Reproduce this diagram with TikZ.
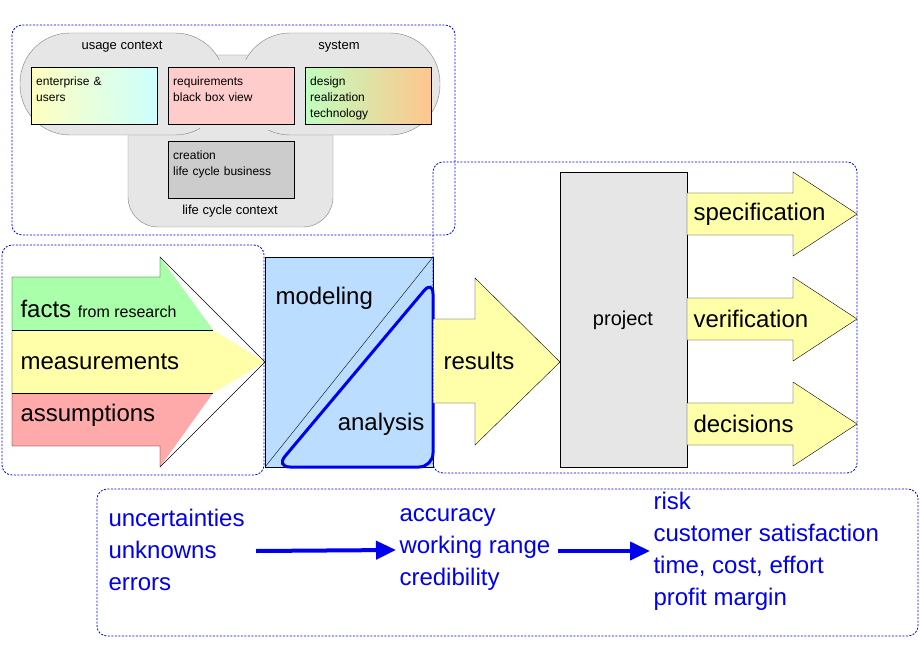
\documentclass[tikz,border=0pt]{standalone}
\usepackage{fontspec}
\setmainfont{Liberation Sans}
\usetikzlibrary{arrows.meta}
\definecolor{cgray}{HTML}{E6E6E6}
\definecolor{cyellow}{HTML}{FFFFAA}
\definecolor{cgreen}{HTML}{AAFFAA}
\definecolor{cred}{HTML}{FFAAAA}
\definecolor{cblue}{HTML}{BBDDFF}
\definecolor{dblue}{HTML}{0000EE}
\tikzset{
  frame/.style={draw=dblue,thick,dash pattern=on 2pt off 1.5pt,rounded corners=10pt},
  context/.style={draw=gray,fill=cgray,rounded corners=45pt},
  item/.style={draw,thin,anchor=north west,minimum width=126pt,minimum height=57pt,text width=116pt,align=left,font=\fontsize{12}{16}\selectfont,inner sep=5pt,text depth=30pt},
  big/.style={font=\fontsize{24}{28}\selectfont},
  bluetxt/.style={text=dblue,font=\fontsize{24}{32}\selectfont,align=left,anchor=west},
  arrowfill/.style={draw,thin,fill=cyellow},
  flow/.style={-{Triangle[length=20pt,width=18pt]},line width=4pt,dblue}
}
\begin{document}
\begin{tikzpicture}[x=1pt,y=-1pt]
\useasboundingbox (0,0) rectangle (920,660);
% context diagram
\draw[context,rounded corners=30pt] (128,55) rectangle (333,227);
\draw[context,rounded corners=50pt] (20,33) rectangle (225,135);
\draw[context,rounded corners=50pt] (240,33) rectangle (440,135);
\fill[cgray] (200,60) rectangle (300,130);
\node (usage) at (122,47) {\fontsize{13}{15}\selectfont usage context};
\node (sys) at (339,47) {\fontsize{13}{15}\selectfont system};
\node (lcc) at (230,211) {\fontsize{13}{15}\selectfont life cycle context};
\node[item,left color=yellow!25,right color=cyan!20] (ent) at (31,67) {enterprise \&\\users};
\node[item,fill=red!20] (req) at (168,67) {requirements\\black box view};
\node[item,left color=green!25,right color=orange!45] (des) at (305,67) {design\\realization\\technology};
\node[item,fill=black!20] (cre) at (168,141) {creation\\life cycle business};
\draw[frame] (12,25) rectangle (455,235);
% inputs
\fill[cgreen] (12,277) -- (160,277) -- (160,257) -- (213,330) -- (12,330) -- cycle;
\fill[cyellow] (12,330) -- (213,330) -- (265,362) -- (213,393) -- (12,393) -- cycle;
\fill[cred] (12,393) -- (213,393) -- (160,467) -- (160,446) -- (12,446) -- cycle;
\draw[thin] (12,277) -- (160,277) -- (160,257) -- (265,362) -- (160,467) -- (160,446) -- (12,446) -- cycle;
\draw[thin] (12,330) -- (213,330) (12,393) -- (213,393);
\node[big,anchor=west] (facts) at (17,309) {facts \fontsize{16}{18}\selectfont from research};
\node[big,anchor=west] (meas) at (17,362) {measurements};
\node[big,anchor=west] (ass) at (17,415) {assumptions};
\draw[frame] (2,245) rectangle (264,475);
% model
\draw[thin,fill=cblue] (265,257) rectangle (433,467);
\draw[thin] (265,467) -- (433,257);
\draw[dblue,line width=3pt,rounded corners=14pt] (433,280) -- (433,467) -- (276,467) -- cycle;
\node[big,anchor=west] (mod) at (272,298) {modeling};
\node[big,anchor=east] (ana) at (428,424) {analysis};
% results
\draw[arrowfill] (433,319) -- (475,319) -- (475,278) -- (560,362) -- (475,445) -- (475,403) -- (433,403) -- cycle;
\node[big] (res) at (479,361) {results};
\draw[thin,fill=cgray] (560,172) rectangle (687,467);
\node (proj) at (623,320) {\fontsize{20}{24}\selectfont project};
\foreach \yy/\txt/\nm in {214/specification/spec,319/verification/veri,424/decisions/deci}{
  \draw[arrowfill] (687,\yy-21) -- (793,\yy-21) -- (793,\yy-42) -- (857,\yy) -- (793,\yy+42) -- (793,\yy+21) -- (687,\yy+21) -- cycle;
  \node[big,anchor=west] (\nm) at (690,\yy) {\txt};
}
\draw[frame] (433,162) rectangle (857,473);
% consequences
\draw[frame] (97,489) rectangle (918,636);
\node[bluetxt] (unc) at (105,550) {uncertainties\\unknowns\\errors};
\node[bluetxt] (acc) at (396,550) {accuracy\\working range\\credibility};
\node[bluetxt] (risk) at (650,551) {risk\\customer satisfaction\\time, cost, effort\\profit margin};
\draw[flow] (unc.east)+(8,1) coordinate (a1) -- (acc.west);
\draw[flow] (acc.east)+(4,1) coordinate (a2) -- (risk.west);
\end{tikzpicture}
\end{document}
